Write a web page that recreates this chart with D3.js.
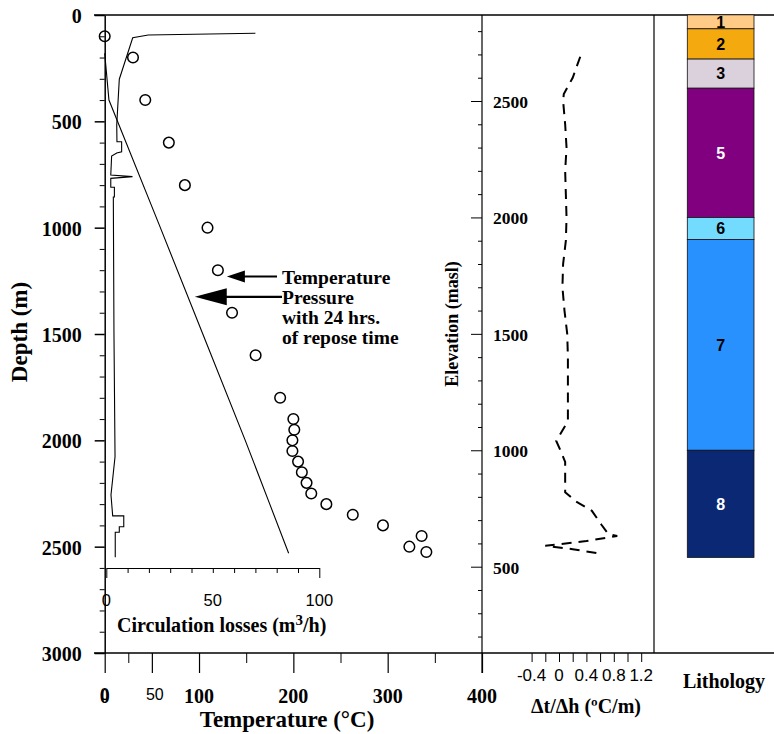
<!DOCTYPE html>
<html>
<head>
<meta charset="utf-8">
<script src="https://cdn.jsdelivr.net/npm/d3@7"></script>
<style>
  body { margin: 0; background: #fff; }
  .serif { font-family: "Liberation Serif", "Times New Roman", serif; font-weight: bold; }
  .sans { font-family: "Liberation Sans", Arial, sans-serif; }
</style>
</head>
<body>
<div id="chart"></div>
<script>
// measured temperature (circles): depth (m) and temperature (C)
var tempDepth = [100, 200, 400, 600, 800, 1000, 1200, 1400, 1600, 1800, 1900, 1950, 2000, 2050, 2100, 2150, 2200, 2250, 2300, 2350, 2400, 2450, 2500, 2525];
var tempC = [0, 30, 43, 68, 85, 109, 120, 135, 160, 186, 200, 201, 199, 199, 205, 209, 214, 219, 235, 263, 295, 336, 323, 341];

// pressure curve, read on the temperature axis
var presDepth = [180, 400, 1000, 1500, 2000, 2300, 2531];
var presVal = [0, 4.5, 59, 104, 149, 175, 195];

// circulation losses (m3/h) with depth
var lossDepth = [86, 94, 107, 302, 517, 596, 596, 643, 649, 663, 752, 760, 768, 810, 810, 856, 856, 1500, 2077, 2257, 2355, 2355, 2406, 2406, 2432, 2432, 2550];
var lossVal = [70, 19.7, 12.4, 6.1, 4.9, 5, 7.2, 7.2, 4.9, 2.5, 2.1, 12.3, 2.1, 2.1, 3.8, 3.8, 3.3, 3.6, 4.1, 2.2, 3.0, 8.2, 8.2, 6.1, 6.1, 4.2, 4.2];

// thermal gradient vs elevation
var gradElev = [2690, 2600, 2530, 2500, 2400, 2300, 2200, 2100, 2000, 1900, 1800, 1700, 1600, 1500, 1400, 1300, 1200, 1130, 1100, 1040, 1000, 950, 900, 820, 780, 740, 680, 640, 632, 610, 590, 575, 558];
var gradVal = [0.31, 0.2, 0.07, 0.06, 0.09, 0.11, 0.09, 0.1, 0.11, 0.1, 0.06, 0.05, 0.08, 0.12, 0.13, 0.13, 0.13, 0.13, 0.08, -0.04, 0.02, 0.09, 0.09, 0.09, 0.25, 0.48, 0.62, 0.72, 0.85, 0.4, -0.2, 0.2, 0.57];

// lithology column (elevation masl)
var lithoTop = [2870, 2810, 2680, 2555, 2000, 1905, 1000];
var lithoBase = [2810, 2680, 2555, 2000, 1905, 1000, 540];
var lithoLabel = ["1", "2", "3", "5", "6", "7", "8"];
var lithoColor = ["#FFCB86", "#F4A90F", "#DBD1DD", "#80007F", "#72DBFE", "#2991FE", "#0A2874"];
var lithoText = ["#000", "#000", "#000", "#fff", "#000", "#000", "#fff"];

var W = 774, H = 734;
var svg = d3.select("#chart").append("svg")
  .attr("width", W).attr("height", H);

// scales
var depthY = d3.scaleLinear().domain([0, 3000]).range([15, 653]);
var tempX = d3.scaleLinear().domain([0, 400]).range([104.7, 482]);
var lossX = d3.scaleLinear().domain([0, 100]).range([106.3, 319.3]);
var elevY = d3.scaleLinear().domain([2500, 500]).range([101, 566.7]);
var gradX = d3.scaleLinear().domain([0, 1]).range([559, 627.5]);

// frame lines
svg.append("line").attr("x1", 94).attr("x2", W).attr("y1", 15).attr("y2", 15).attr("stroke", "#000").attr("stroke-width", 1.5);
svg.append("line").attr("x1", 94).attr("x2", W).attr("y1", 653).attr("y2", 653).attr("stroke", "#000").attr("stroke-width", 1.5);
svg.append("line").attr("x1", 654).attr("x2", 654).attr("y1", 15).attr("y2", 653).attr("stroke", "#000").attr("stroke-width", 1.2);

// depth axis
var d3range = d3.range(0, 3001, 100);
svg.append("g").attr("transform", "translate(104.7,0)")
  .call(d3.axisLeft(depthY).tickValues(d3range.filter(function(d){ return d % 500; })).tickSize(5).tickFormat(""))
  .call(function(g){ g.select(".domain").remove(); });
var depAx = svg.append("g").attr("transform", "translate(104.7,0)")
  .call(d3.axisLeft(depthY).tickValues(d3.range(0, 3001, 500)).tickSize(10).tickSizeOuter(0).tickPadding(13).tickFormat(d3.format("d")));
depAx.selectAll("text").attr("class", "serif").style("font-size", "20px").attr("dy", "0.38em");
depAx.selectAll("path,line").attr("stroke-width", 1.5);

svg.append("text").attr("class", "serif")
  .attr("transform", "translate(27,332) rotate(-90)")
  .attr("text-anchor", "middle").style("font-size", "23px")
  .text("Depth (m)");

// temperature axis
svg.append("g").attr("transform", "translate(0,653)")
  .call(d3.axisBottom(tempX).tickValues([25, 150, 250, 350]).tickSize(10).tickFormat(""))
  .call(function(g){ g.select(".domain").remove(); });
svg.append("g").attr("transform", "translate(0,653)")
  .call(d3.axisBottom(tempX).tickValues([0, 50, 100, 200, 300, 400]).tickSize(20).tickFormat(""))
  .call(function(g){ g.select(".domain").remove(); g.selectAll("line").attr("stroke-width", 1.2); });

svg.append("g").selectAll("text").data([0, 100, 200, 300, 400]).enter().append("text")
  .attr("class", "serif").style("font-size", "20px")
  .attr("x", function(d){ return tempX(d); }).attr("y", 703)
  .attr("text-anchor", "middle").text(function(d){ return d; });
svg.append("g").selectAll("text").data([0, 50]).enter().append("text")
  .attr("class", "sans").style("font-size", "16px")
  .attr("x", function(d){ return tempX(d) + (d ? 3 : 0); }).attr("y", 700)
  .attr("text-anchor", "middle").text(function(d){ return d; });

svg.append("text").attr("class", "serif")
  .attr("x", 287).attr("y", 727).attr("text-anchor", "middle").style("font-size", "23px")
  .text("Temperature (°C)");

// circulation losses axis (inside)
var lossAx = svg.append("g").attr("transform", "translate(0,568)")
  .call(d3.axisBottom(lossX).tickValues(d3.range(0, 101, 10)).tickSize(5).tickSizeOuter(0).tickFormat(""));
lossAx.selectAll("line").filter(function(d){ return d === 0 || d === 100; }).attr("y2", 10);
svg.append("g").selectAll("text").data([0, 50, 100]).enter().append("text")
  .attr("class", "sans").style("font-size", "16.5px")
  .attr("x", function(d){ return lossX(d); }).attr("y", 606)
  .attr("text-anchor", "middle").text(function(d){ return d; });
var lt = svg.append("text").attr("class", "serif")
  .attr("x", 117).attr("y", 632).style("font-size", "20px");
lt.append("tspan").text("Circulation losses (m");
lt.append("tspan").attr("dy", -7).style("font-size", "15px").text("3");
lt.append("tspan").attr("dy", 7).text("/h)");

// circulation losses line
svg.append("path")
  .datum(d3.range(lossDepth.length))
  .attr("fill", "none").attr("stroke", "#000").attr("stroke-width", 1.1)
  .attr("d", d3.line()
    .x(function(i){ return lossX(lossVal[i]); })
    .y(function(i){ return depthY(lossDepth[i]); }));

// pressure line
svg.append("path")
  .datum(d3.range(presDepth.length))
  .attr("fill", "none").attr("stroke", "#000").attr("stroke-width", 1.1)
  .attr("d", d3.line()
    .x(function(i){ return tempX(presVal[i]); })
    .y(function(i){ return depthY(presDepth[i]); }));

// temperature circles
svg.append("g").selectAll("circle").data(d3.range(tempDepth.length)).enter().append("circle")
  .attr("cx", function(i){ return tempX(tempC[i]); })
  .attr("cy", function(i){ return depthY(tempDepth[i]); })
  .attr("r", 5.3).attr("fill", "none").attr("stroke", "#000").attr("stroke-width", 1.5);

// annotation arrows
function arrow(x1, x2, y, hl, hw, sw) {
  svg.append("line").attr("x1", x1).attr("x2", x2 + hl - 2).attr("y1", y).attr("y2", y)
    .attr("stroke", "#000").attr("stroke-width", sw);
  svg.append("path").attr("fill", "#000")
    .attr("d", "M" + x2 + "," + y + "L" + (x2 + hl) + "," + (y - hw) + "L" + (x2 + hl) + "," + (y + hw) + "Z");
}
arrow(277, tempX(129.5), depthY(1230), 18, 6, 2);
arrow(282, tempX(95.5), depthY(1325), 32, 8.5, 2.2);

var notes = ["Temperature", "Pressure", "with 24 hrs.", "of repose time"];
svg.append("g").selectAll("text").data(notes).enter().append("text")
  .attr("class", "serif").style("font-size", "19.5px")
  .attr("x", 282).attr("y", function(d, i){ return 283.5 + i * 20.3; })
  .text(function(d){ return d; });

// elevation axis
svg.append("g").attr("transform", "translate(482,0)")
  .call(d3.axisLeft(elevY).tickValues(d3.range(200, 2801, 100).filter(function(d){ return d % 500; })).tickSize(4).tickFormat(""))
  .call(function(g){ g.select(".domain").remove(); });
var elAx = svg.append("g").attr("transform", "translate(482,0)")
  .call(d3.axisLeft(elevY).tickValues(d3.range(500, 2501, 500)).tickSize(11).tickFormat(d3.format("d")))
  .call(function(g){ g.select(".domain").remove(); });
elAx.selectAll("text").attr("class", "serif").style("font-size", "17.5px")
  .attr("x", 11).attr("text-anchor", "start").attr("dy", "0.36em");
svg.append("line").attr("x1", 482).attr("x2", 482).attr("y1", 15).attr("y2", 673)
  .attr("stroke", "#000").attr("stroke-width", 1.2);

svg.append("text").attr("class", "serif")
  .attr("transform", "translate(457.5,324) rotate(-90)")
  .attr("text-anchor", "middle").style("font-size", "18px")
  .text("Elevation (masl)");

// gradient axis
svg.append("g").attr("transform", "translate(0,653)")
  .call(d3.axisBottom(gradX).tickValues(d3.range(-0.4, 1.21, 0.2)).tickSize(9).tickFormat(""))
  .call(function(g){ g.select(".domain").remove(); });
svg.append("g").selectAll("text").data([-0.4, 0, 0.4, 0.8, 1.2]).enter().append("text")
  .attr("class", "sans").style("font-size", "17px")
  .attr("x", function(d){ return gradX(d); }).attr("y", 681)
  .attr("text-anchor", "middle").text(function(d){ return d; });
svg.append("text").attr("class", "serif")
  .attr("x", 586).attr("y", 713).attr("text-anchor", "middle").style("font-size", "20px")
  .text("Δt/Δh (ºC/m)");

// gradient dashed line
svg.append("path")
  .datum(d3.range(gradElev.length))
  .attr("fill", "none").attr("stroke", "#000").attr("stroke-width", 2)
  .attr("stroke-dasharray", "10,7")
  .attr("d", d3.line()
    .x(function(i){ return gradX(gradVal[i]); })
    .y(function(i){ return elevY(gradElev[i]); }));

// lithology column
var lith = svg.append("g").selectAll("g").data(d3.range(lithoTop.length)).enter().append("g");
lith.append("rect")
  .attr("x", 687.3).attr("width", 66.7)
  .attr("y", function(i){ return elevY(lithoTop[i]); })
  .attr("height", function(i){ return elevY(lithoBase[i]) - elevY(lithoTop[i]); })
  .attr("fill", function(i){ return lithoColor[i]; })
  .attr("stroke", "#111").attr("stroke-width", 0.8);
lith.append("text").attr("class", "sans")
  .style("font-size", "16px").style("font-weight", "bold")
  .attr("x", 720.7)
  .attr("y", function(i){ return (elevY(lithoTop[i]) + elevY(lithoBase[i])) / 2; })
  .attr("dy", "0.36em").attr("text-anchor", "middle")
  .attr("fill", function(i){ return lithoText[i]; })
  .text(function(i){ return lithoLabel[i]; });

svg.append("text").attr("class", "serif")
  .attr("x", 724).attr("y", 688).attr("text-anchor", "middle").style("font-size", "20px")
  .text("Lithology");
</script>
</body>
</html>
